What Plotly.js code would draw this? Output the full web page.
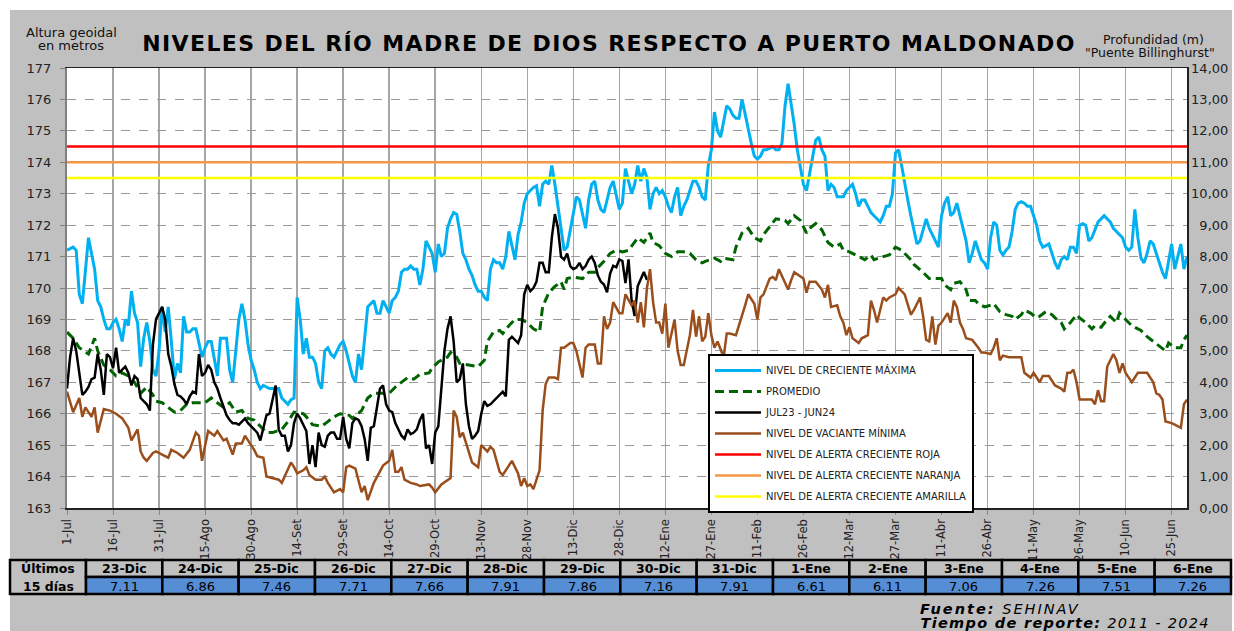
<!DOCTYPE html>
<html><head><meta charset="utf-8">
<script src="https://cdn.plot.ly/plotly-3.0.1.min.js"></script>
<style>
html,body{margin:0;padding:0;background:#fff;}
#chart{width:1234px;height:631px;}
.gtitle{letter-spacing:1.4px;}
.annotation[data-index="36"] text{letter-spacing:2px;}
.annotation[data-index="37"] text{letter-spacing:1.3px;}
</style></head><body><div id="chart"></div>
<script>
// ---------- DATA ----------
var diasTicks = [0,15,30,45,60,75,90,105,120,135,150,165,180,195,210,225,240,255,270,285,300,315,330,345,360];
var etiquetasX = ['1-Jul','16-Jul','31-Jul','15-Ago','30-Ago','14-Set','29-Set','14-Oct','29-Oct','13-Nov','28-Nov','13-Dic','28-Dic','12-Ene','27-Ene','11-Feb','26-Feb','12-Mar','27-Mar','11-Abr','26-Abr','11-May','26-May','10-Jun','25-Jun'];

// Nivel de creciente máxima (one value per day, from 1-Jul)
var nivelMax = [
171.2,171.25,171.3,171.2,169.8,169.5,170.5,171.6,171.1,170.6,
169.6,169.4,169.0,168.7,168.7,168.9,169.0,168.7,168.3,169.0,
168.8,169.9,169.2,168.9,167.5,168.4,168.9,168.3,167.4,167.2,
168.0,169.4,168.6,169.4,168.3,167.1,167.6,167.3,169.1,168.6,
168.6,168.7,168.7,168.2,167.8,168.1,168.3,168.3,167.7,167.2,
168.4,168.4,168.4,167.4,167.0,168.0,169.0,169.5,169.0,168.2,
167.7,167.4,167.0,166.8,166.9,166.85,166.8,166.8,166.8,166.8,
166.5,166.4,166.3,166.45,166.5,169.7,169.0,167.9,168.4,167.8,
167.8,167.6,167.0,166.8,168.0,168.1,167.9,167.8,168.0,168.2,
168.3,168.0,167.6,167.2,167.0,167.9,167.4,168.5,169.4,169.5,
169.6,169.2,169.2,169.6,169.4,169.2,169.6,169.7,169.9,170.5,
170.6,170.6,170.7,170.6,170.6,170.1,170.6,171.5,171.3,171.1,
170.5,171.4,171.0,171.1,171.9,172.2,172.4,172.35,171.8,171.1,
170.9,170.6,170.4,170.1,169.9,169.9,169.7,169.6,170.6,170.9,
170.8,170.8,170.6,171.0,171.8,171.4,170.9,171.7,172.1,172.7,
173.0,173.1,173.2,173.25,172.6,173.3,173.4,173.3,173.9,173.3,
172.6,171.8,171.2,171.3,171.8,172.3,172.9,172.8,172.4,171.9,
172.8,173.3,173.4,172.8,172.5,172.4,172.8,173.2,173.4,172.9,
172.5,172.7,173.8,173.4,173.0,173.3,173.9,173.4,173.8,173.5,
172.5,173.0,173.2,173.0,173.1,172.9,172.6,172.4,172.9,173.2,
172.3,172.6,172.8,173.1,173.4,173.4,173.2,172.9,172.8,173.9,
174.4,175.6,175.0,174.8,175.3,175.8,175.7,175.5,175.4,175.4,
176.0,175.5,175.0,174.6,174.2,174.1,174.2,174.4,174.4,174.45,
174.5,174.4,174.4,174.6,175.8,176.5,175.9,175.2,174.4,173.8,
173.3,173.1,173.6,174.2,174.7,174.8,174.4,174.2,173.1,173.3,
173.2,172.9,172.9,172.9,173.1,173.2,173.3,173.0,172.6,172.8,
172.8,172.6,172.4,172.3,172.2,172.1,172.3,172.6,172.6,173.0,
174.3,174.4,173.9,173.3,172.8,172.3,171.8,171.4,171.5,171.9,
172.2,171.9,171.7,171.5,171.3,172.3,172.7,172.9,172.3,172.4,
172.7,172.3,171.9,171.5,170.8,171.1,171.5,171.2,170.9,170.8,
170.6,171.6,172.1,172.0,171.2,171.05,171.2,171.3,171.8,172.5,
172.7,172.75,172.7,172.6,172.6,172.3,172.0,171.5,171.3,171.35,
171.4,171.1,170.8,170.6,170.9,171.0,170.9,171.3,171.3,171.1,
172.0,172.05,172.0,171.5,171.6,171.85,172.1,172.2,172.3,172.2,
172.1,171.9,171.8,171.7,171.6,171.3,171.2,171.3,172.5,171.6,
170.95,170.8,171.1,171.5,171.4,171.1,170.8,170.5,170.3,170.8,
171.4,170.6,171.0,171.4,170.6,171.0
];

// Promedio (day, value)
var diasProm = [
0,2,4,7,9,10,12,14,16,18,
20,22,24,26,28,29,31,33,35,37,
39,41,43,45,47,49,51,53,55,57,
59,61,63,65,67,70,72,74,77,78,
80,83,85,87,89,92,93,96,98,100,
102,105,107,109,111,113,115,118,119,121,
124,125,127,128,131,134,136,137,139,141,
142,144,146,148,150,152,154,155,157,159,
161,162,163,165,168,170,172,173,175,177,
179,181,183,185,186,188,190,191,193,195,
197,199,201,203,205,207,208,211,213,214,
217,218,220,222,224,226,227,229,231,234,
235,237,239,241,242,244,246,248,250,252,
253,255,258,260,262,263,266,268,270,272,
275,276,279,281,283,285,286,288,289,291,
293,294,296,297,299,301,302,304,306,308,
309,311,312,314,316,317,319,321,322,324,
325,327,329,330,332,334,335,337,339,340,
342,343,345,347,350,352,354,356,358,359,
361,363,364,365];
var nivelProm = [
168.6,168.4,168.1,167.9,168.4,168.0,167.55,167.4,167.2,167.3,
167.2,167.0,166.65,166.85,166.6,166.4,166.35,166.2,166.05,166.1,
166.3,166.35,166.35,166.35,166.5,166.35,166.2,166.35,166.05,166.1,
165.85,165.8,165.6,165.4,165.4,165.5,165.75,166.05,166.0,165.9,
165.65,165.6,165.75,165.9,166.0,165.95,165.85,166.1,166.5,166.65,
166.65,166.65,166.85,167.0,167.15,167.1,167.25,167.3,167.45,167.65,
167.8,167.95,167.8,167.6,167.55,167.5,167.7,168.3,168.6,168.65,
168.55,168.8,169.0,169.0,168.9,168.7,168.6,169.4,169.85,170.05,
170.2,169.95,170.3,170.35,170.3,170.5,170.5,170.65,170.85,171.1,
171.2,171.15,171.2,171.45,171.6,171.45,171.75,171.45,171.35,171.1,
171.0,171.15,171.15,171.1,170.9,170.8,170.85,170.95,170.85,170.95,
170.9,171.3,171.75,171.9,171.6,171.5,171.7,171.95,172.2,172.15,
172.05,172.3,172.15,171.75,171.9,172.05,171.85,171.45,171.3,171.4,
171.2,171.15,171.0,170.9,171.05,170.9,171.0,171.05,171.3,171.2,
170.9,170.75,170.5,170.3,170.3,170.3,170.1,169.95,170.15,170.2,
169.95,169.6,169.6,169.5,169.4,169.45,169.5,169.25,169.15,169.1,
169.0,169.15,169.3,169.2,169.05,169.1,169.25,169.15,169.05,168.9,
168.7,168.9,169.15,169.05,168.9,168.7,168.8,168.75,169.0,169.1,
168.9,169.2,169.0,168.8,168.65,168.45,168.3,168.15,168.0,168.25,
168.1,168.1,168.35,168.5];

// JUL23 - JUN24 (one value per day, from 1-Jul-2023 to 6-Ene-2024)
var nivelActual = [
166.8,167.8,168.4,168.0,167.3,166.6,166.7,166.85,167.1,167.15,
167.9,167.4,166.6,167.9,167.8,167.45,168.1,167.3,167.4,167.5,
167.3,166.9,167.2,167.1,166.5,166.4,166.3,166.1,168.2,169.0,
169.2,169.4,169.0,167.9,167.5,166.95,166.6,166.55,166.45,166.3,
166.55,166.7,166.65,167.9,167.2,167.3,167.55,167.4,167.0,166.8,
166.5,166.25,165.95,165.8,165.7,165.7,165.65,165.75,165.85,165.7,
165.6,165.5,165.4,165.15,165.6,165.95,166.0,166.5,166.9,165.5,
165.3,165.3,164.8,165.0,165.7,166.0,165.85,165.65,165.45,164.4,
165.0,164.3,165.4,165.0,164.95,165.3,165.4,165.4,165.2,165.2,
165.9,165.2,164.9,165.7,165.85,165.8,165.6,165.2,164.5,165.55,
165.6,166.2,166.8,166.9,166.3,166.1,166.05,165.7,165.5,165.3,
165.2,165.5,165.35,165.4,165.5,165.8,166.0,164.9,165.0,164.4,
165.4,165.6,166.8,168.0,168.7,169.1,168.3,167.0,167.1,167.6,
166.3,165.6,165.2,165.3,165.45,166.0,166.4,166.25,166.3,166.4,
166.5,166.6,166.7,166.55,168.35,168.45,168.35,168.25,168.5,169.8,
170.1,169.9,170.0,170.2,170.8,170.8,170.5,170.5,171.6,172.35,
171.9,171.0,170.9,171.1,170.7,170.6,170.65,170.8,170.6,170.7,
170.9,171.0,170.8,170.4,170.2,170.11,169.86,170.46,170.71,170.66,
170.91,170.86,170.16,170.91,169.61,169.11,170.06,170.26,170.51,170.26];

// Nivel de vaciante mínima (day, value)
var diasMin = [
0,2,4,5,6,8,9,10,12,14,
16,18,20,21,23,24,25,26,28,29,
31,33,34,36,38,40,42,43,44,46,
48,49,51,52,54,55,57,58,59,61,
62,64,65,67,69,70,72,73,74,75,
77,78,79,81,83,84,85,87,89,90,
91,92,94,96,97,98,100,102,103,105,
106,107,108,109,110,112,114,115,118,119,
120,122,125,126,127,128,129,132,134,135,
137,138,139,141,142,144,145,147,148,149,
150,151,152,154,155,156,157,159,160,161,
162,164,165,166,168,169,170,172,173,174,
175,176,177,178,180,181,182,184,185,186,
187,188,189,190,191,192,193,194,195,196,
198,199,200,201,203,204,205,206,207,208,
209,210,211,212,214,215,216,218,219,221,
222,224,225,226,227,229,230,231,232,235,
236,237,240,241,242,244,246,247,248,249,
251,252,253,254,255,256,258,259,261,262,
263,264,266,267,268,270,271,273,275,276,
278,279,280,281,282,283,284,285,287,288,
289,290,291,292,293,295,297,298,299,301,
302,303,304,305,307,308,310,311,312,314,
315,317,318,320,322,324,325,326,327,328,
329,330,332,334,335,336,337,338,339,341,
342,343,344,345,346,347,349,351,352,354,
355,356,357,358,360,361,363,364,365];
var nivelMin = [
166.7,166.05,166.5,165.9,166.2,165.9,166.2,165.4,166.15,166.1,
166.0,165.85,165.55,165.15,165.5,164.8,164.6,164.5,164.75,164.8,
164.7,164.6,164.85,164.75,164.6,164.85,165.4,165.3,164.5,165.45,
165.3,165.45,165.15,165.2,164.7,165.05,165.05,165.3,165.15,164.85,
164.65,164.6,164.0,163.95,163.9,163.8,164.2,164.45,164.3,164.1,
164.2,164.3,164.05,163.9,163.9,164.0,163.8,163.5,163.6,163.5,
164.3,164.35,164.25,163.5,163.7,163.25,163.8,164.15,164.35,164.5,
164.85,164.15,164.15,164.3,163.9,163.8,163.75,163.7,163.75,163.65,
163.5,163.75,163.95,166.1,165.9,165.25,165.4,164.45,164.3,165.0,
164.8,164.95,164.85,164.15,164.05,164.35,164.5,164.1,163.7,163.95,
163.7,163.75,163.6,164.2,166.1,166.95,167.15,167.15,167.1,168.1,
168.1,168.25,168.25,168.0,167.15,168.1,168.2,168.2,167.6,167.6,
169.1,168.7,168.9,169.55,169.2,169.2,169.8,169.45,169.6,168.9,
169.55,168.75,170.0,170.6,169.55,168.9,168.9,168.55,169.5,168.1,
169.0,168.0,167.55,167.55,168.5,169.3,168.45,169.1,168.3,168.45,
169.2,168.5,168.1,168.3,167.8,168.55,168.55,168.5,168.8,169.45,
169.8,169.5,169.0,169.7,169.8,170.3,170.35,170.25,170.6,169.95,
170.25,170.5,170.3,169.85,170.2,170.2,169.95,169.7,170.1,169.4,
169.45,169.1,168.9,168.5,168.75,168.4,168.25,168.4,168.5,169.6,
169.3,168.9,169.7,169.6,169.7,169.8,170.0,169.8,169.15,169.3,
169.7,169.1,168.35,168.3,169.1,168.2,168.8,168.9,169.2,168.9,
169.6,169.4,168.9,168.7,168.4,168.35,168.1,167.95,167.95,167.9,
168.1,168.4,167.7,167.85,167.8,167.8,167.8,167.8,167.3,167.15,
167.3,167.0,167.2,167.2,166.9,166.8,166.7,167.3,167.3,167.4,
167.0,166.45,166.45,166.45,166.3,166.75,166.4,166.4,167.5,167.9,
167.7,167.3,167.6,167.3,167.15,167.0,167.3,167.3,167.3,167.0,
166.65,166.6,166.45,165.75,165.7,165.65,165.55,166.3,166.45];

// Alert levels (depth, m)
var nombresAlerta = ['NIVEL DE ALERTA CRECIENTE ROJA','NIVEL DE ALERTA CRECIENTE NARANJA','NIVEL DE ALERTA CRECIENTE AMARILLA'];
var profAlerta = [11.5, 11.0, 10.5];
var coloresAlerta = ['#FF0000','#F79646','#FFFF00'];

// Table: last 15 days
var fechasTabla = ['23-Dic','24-Dic','25-Dic','26-Dic','27-Dic','28-Dic','29-Dic','30-Dic','31-Dic','1-Ene','2-Ene','3-Ene','4-Ene','5-Ene','6-Ene'];
var valoresTabla = ['7.11','6.86','7.46','7.71','7.66','7.91','7.86','7.16','7.91','6.61','6.11','7.06','7.26','7.51','7.26'];

var profTicks = [0,1,2,3,4,5,6,7,8,9,10,11,12,13,14];

// ---------- LAYOUT HELPERS ----------
var W = 1234, H = 631, L = 67, R = 1187, T = 68, B = 508;
function fx(px){ return (px - L) / (R - L); }
function fy(py){ return (B - py) / (B - T); }
function idx(a){ return a.map(function(_, i){ return i; }); }

var FONT = 'DejaVu Sans, Verdana, sans-serif';

var traces = [
  {x: idx(nivelMax), y: nivelMax, name: 'NIVEL DE CRECIENTE MÁXIMA', type: 'scatter', mode: 'lines',
   line: {color: '#00B0F0', width: 3}, legendgroup: 'a'},
  {x: diasProm, y: nivelProm, name: 'PROMEDIO', type: 'scatter', mode: 'lines',
   line: {color: '#006400', width: 3, dash: '9px,5px'}, legendgroup: 'b'},
  {x: idx(nivelActual), y: nivelActual, name: 'JUL23 - JUN24', type: 'scatter', mode: 'lines',
   line: {color: '#000000', width: 2.5}, legendgroup: 'c'},
  {x: diasMin, y: nivelMin, name: 'NIVEL DE VACIANTE MÍNIMA', type: 'scatter', mode: 'lines',
   line: {color: '#9A4E1C', width: 2.5}, legendgroup: 'd'}
];
profAlerta.forEach(function(v, i){
  traces.push({x: [0, 365], y: [v, v], yaxis: 'y2', name: nombresAlerta[i], type: 'scatter', mode: 'lines',
    line: {color: coloresAlerta[i], width: 2.5}, legendgroup: 'e' + i});
});

var shapes = [
  {type:'rect', xref:'paper', yref:'paper', x0: fx(0), x1: fx(W), y0: fy(0), y1: fy(10), fillcolor:'#ffffff', line:{width:0}, layer:'below'},
  {type:'rect', xref:'paper', yref:'paper', x0: fx(0), x1: fx(10), y0: fy(0), y1: fy(H), fillcolor:'#ffffff', line:{width:0}, layer:'below'},
  {type:'rect', xref:'paper', yref:'paper', x0: fx(1232), x1: fx(W), y0: fy(0), y1: fy(H), fillcolor:'#ffffff', line:{width:0}, layer:'below'}
];
var annotations = [];

// Table
var tTop = 560, tMid = 577, tBot = 594, c0 = 10, c1 = 86, cW = (1231 - 86) / 15;
shapes.push({type:'rect', xref:'paper', yref:'paper', x0: fx(c0), x1: fx(c1), y0: fy(tTop), y1: fy(tBot),
  fillcolor:'#c0c0c0', line:{color:'#000', width:2.5}});
annotations.push({xref:'paper', yref:'paper', x: fx((c0 + c1) / 2), y: fy(568.5), text:'<b>Últimos</b>', showarrow:false,
  xanchor:'center', yanchor:'middle', font:{family:FONT, size:12.5, color:'#000'}});
annotations.push({xref:'paper', yref:'paper', x: fx((c0 + c1) / 2), y: fy(586), text:'<b>15 días</b>', showarrow:false,
  xanchor:'center', yanchor:'middle', font:{family:FONT, size:12.5, color:'#000'}});
fechasTabla.forEach(function(f, i){
  var a = c1 + i * cW, b = c1 + (i + 1) * cW;
  shapes.push({type:'rect', xref:'paper', yref:'paper', x0: fx(a), x1: fx(b), y0: fy(tTop), y1: fy(tMid),
    fillcolor:'#c0c0c0', line:{color:'#000', width:2.5}});
  shapes.push({type:'rect', xref:'paper', yref:'paper', x0: fx(a), x1: fx(b), y0: fy(tMid), y1: fy(tBot),
    fillcolor:'#558ED5', line:{color:'#000', width:2.5}});
  annotations.push({xref:'paper', yref:'paper', x: fx((a + b) / 2), y: fy(568.5), text:'<b>' + f + '</b>', showarrow:false,
    xanchor:'center', yanchor:'middle', font:{family:FONT, size:12.5, color:'#000'}});
  annotations.push({xref:'paper', yref:'paper', x: fx((a + b) / 2), y: fy(586), text: valoresTabla[i], showarrow:false,
    xanchor:'center', yanchor:'middle', font:{family:FONT, size:13, color:'#000'}});
});

// Axis captions and footer
annotations.push({xref:'paper', yref:'paper', x: fx(71), y: fy(32), text:'Altura geoidal', showarrow:false,
  xanchor:'center', yanchor:'middle', font:{family:FONT, size:13, color:'#111'}});
annotations.push({xref:'paper', yref:'paper', x: fx(71), y: fy(45.5), text:'en metros', showarrow:false,
  xanchor:'center', yanchor:'middle', font:{family:FONT, size:13, color:'#111'}});
annotations.push({xref:'paper', yref:'paper', x: fx(1153), y: fy(40), text:'Profundidad (m)', showarrow:false,
  xanchor:'center', yanchor:'middle', font:{family:FONT, size:12.5, color:'#111'}});
annotations.push({xref:'paper', yref:'paper', x: fx(1150), y: fy(53), text:'"Puente Billinghurst"', showarrow:false,
  xanchor:'center', yanchor:'middle', font:{family:FONT, size:12.5, color:'#111'}});
annotations.push({xref:'paper', yref:'paper', x: fx(933), y: fy(608.5), text:'<b><i>Fuente:</i></b><i> SEHINAV</i>', showarrow:false,
  xanchor:'left', yanchor:'middle', font:{family:FONT, size:14.5, color:'#000'}});
annotations.push({xref:'paper', yref:'paper', x: fx(938), y: fy(622.5), text:'<b><i>Tiempo de reporte:</i></b><i> 2011 - 2024</i>', showarrow:false,
  xanchor:'left', yanchor:'middle', font:{family:FONT, size:14.5, color:'#000'}});

var profText = profTicks.map(function(v){
  var s = v.toFixed(2).replace('.', ',');
  return (s.length < 5 ? '\u00a0\u00a0' : '') + s;
});

var layout = {
  width: W, height: H,
  margin: {l: L, r: W - R, t: T, b: H - B, pad: 0},
  paper_bgcolor: '#c0c0c0', plot_bgcolor: '#ffffff',
  separators: ',.',
  showlegend: true,
  title: {text: '<b>NIVELES DEL RÍO MADRE DE DIOS RESPECTO A PUERTO MALDONADO</b>',
    font: {family: FONT, size: 22, color: '#000'},
    x: 609 / W, xanchor: 'center', xref: 'container', y: 1 - 43 / H, yanchor: 'middle', yref: 'container'},
  xaxis: {range: [0, 365], tickmode: 'array', tickvals: diasTicks, ticktext: etiquetasX, tickangle: -90,
    tickfont: {family: FONT, size: 11.5, color: '#222'}, showgrid: true, gridcolor: '#a6a6a6', gridwidth: 1.5,
    showline: true, linecolor: '#222', linewidth: 1.5, mirror: true, ticks: 'outside', ticklen: 5, tickcolor: '#888',
    zeroline: false, fixedrange: true},
  yaxis: {range: [163, 177], tick0: 163, dtick: 1, showgrid: true, gridcolor: '#9a9a9a', griddash: 'dash', gridwidth: 1,
    showline: true, linecolor: '#808080', linewidth: 2, ticks: 'outside', ticklen: 5, tickcolor: '#808080',
    tickfont: {family: FONT, size: 13, color: '#222'}, ticklabelstandoff: 6, zeroline: false, fixedrange: true},
  yaxis2: {overlaying: 'y', side: 'right', range: [0, 14], tickmode: 'array', tickvals: profTicks, ticktext: profText,
    showgrid: false, showline: true, linecolor: '#222', linewidth: 1.5, ticks: '',
    tickfont: {family: FONT, size: 13, color: '#222'}, zeroline: false, fixedrange: true},
  legend: {x: fx(708), y: fy(354), xanchor: 'left', yanchor: 'top', bgcolor: '#ffffff', bordercolor: '#000', borderwidth: 2,
    font: {family: FONT, size: 10, color: '#222'}, itemwidth: 46, traceorder: 'grouped', tracegroupgap: 2},
  shapes: shapes,
  annotations: annotations
};

Plotly.newPlot('chart', traces, layout, {staticPlot: true, displayModeBar: false});
</script></body></html>
